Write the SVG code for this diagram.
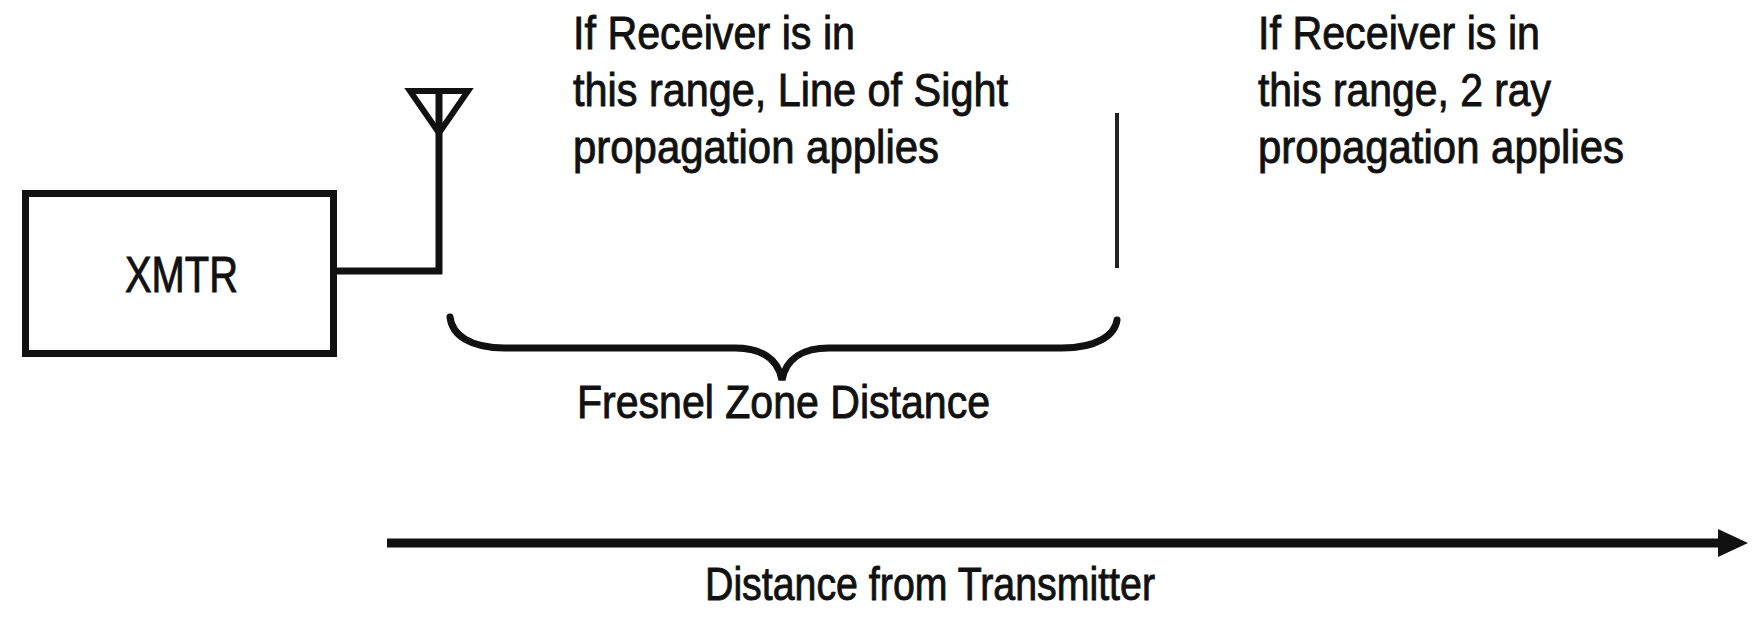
<svg xmlns="http://www.w3.org/2000/svg" width="1763" height="617" viewBox="0 0 1763 617">
  <style>
    .bg { fill: #ffffff; }
    .t { font-family: "Liberation Sans", Arial, sans-serif; fill: #111111; stroke: #111111; stroke-width: 0.9; }
    .line { fill: none; stroke: #111111; stroke-linejoin: miter; }
  </style>
  <defs>
    <marker id="arrowHead" markerUnits="userSpaceOnUse" markerWidth="30" markerHeight="28" refX="0" refY="14" orient="auto">
      <path d="M0,0 L30,14 L0,28 z" fill="#111111"/>
    </marker>
  </defs>
  <rect class="bg" x="0" y="0" width="1763" height="617"/>

  <g id="xmtr">
    <rect class="line" x="25.5" y="193.5" width="308" height="160" stroke-width="7"/>
    <text class="t" x="125" y="292" font-size="50" textLength="113" lengthAdjust="spacingAndGlyphs">XMTR</text>
  </g>

  <g id="antenna">
    <polygon class="line" points="410,91 468,91 439,133" stroke-width="6"/>
  </g>

  <g id="connectors">
    <path id="feed" class="line" d="M337,271 L439,271 L439,91" stroke-width="7"/>
    <line id="distance-axis" x1="387" y1="543" x2="1718" y2="543" stroke="#111111" stroke-width="9" marker-end="url(#arrowHead)"/>
  </g>

  <g id="los-label">
    <text class="t" x="573" y="49" font-size="46" textLength="282" lengthAdjust="spacingAndGlyphs">If Receiver is in</text>
    <text class="t" x="573" y="106" font-size="46" textLength="435" lengthAdjust="spacingAndGlyphs">this range, Line of Sight</text>
    <text class="t" x="573" y="163" font-size="46" textLength="366" lengthAdjust="spacingAndGlyphs">propagation applies</text>
  </g>

  <g id="boundary">
    <line x1="1117" y1="113" x2="1117" y2="268" stroke="#222222" stroke-width="4"/>
  </g>

  <g id="tworay-label">
    <text class="t" x="1258" y="49" font-size="46" textLength="282" lengthAdjust="spacingAndGlyphs">If Receiver is in</text>
    <text class="t" x="1258" y="106" font-size="46" textLength="293" lengthAdjust="spacingAndGlyphs">this range, 2 ray</text>
    <text class="t" x="1258" y="163" font-size="46" textLength="366" lengthAdjust="spacingAndGlyphs">propagation applies</text>
  </g>

  <g id="fresnel-brace">
    <path class="line" d="M450,317 C452,335 470,348 505,348 L735,348 C760,348 778,358 782,380 C786,358 804,348 829,348 L1062,348 C1097,348 1115,335 1117,320" stroke-width="7" stroke-linecap="round"/>
    <text class="t" x="577" y="418" font-size="46" textLength="413" lengthAdjust="spacingAndGlyphs">Fresnel Zone Distance</text>
  </g>

  <g id="axis-label">
    <text class="t" x="705" y="600" font-size="46" textLength="450" lengthAdjust="spacingAndGlyphs">Distance from Transmitter</text>
  </g>
</svg>
